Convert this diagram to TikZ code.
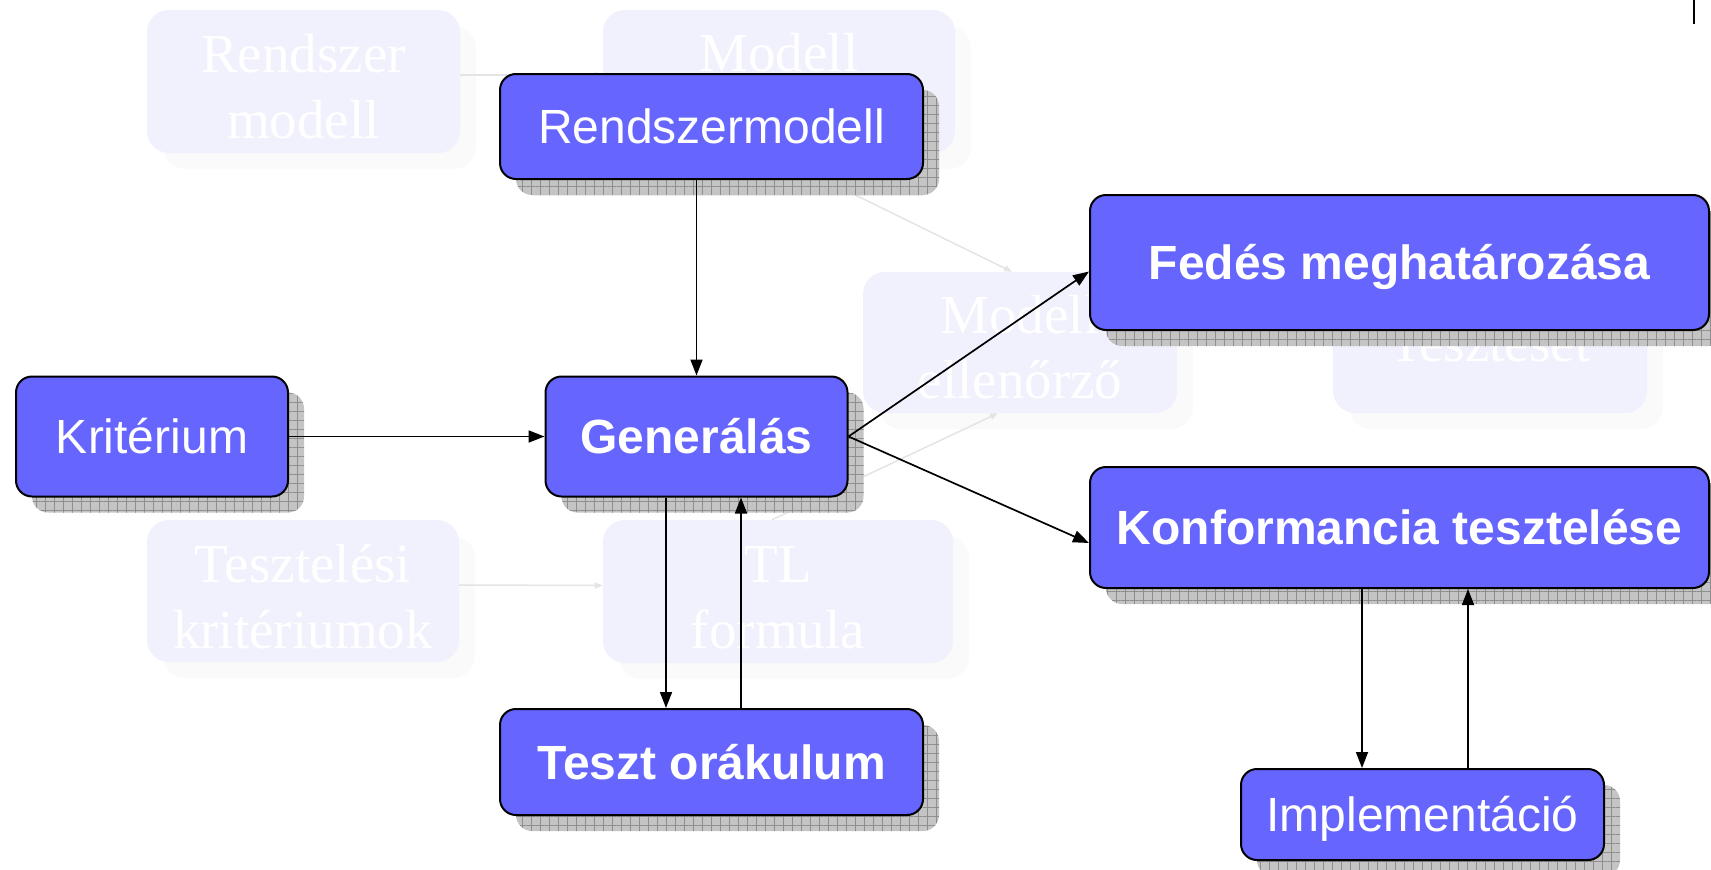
\documentclass[tikz,border=0pt]{standalone}
\usepackage{fontspec}
\newfontfamily\boxfont{Liberation Sans}
\newfontfamily\ghostfont{Liberation Serif}
\usetikzlibrary{arrows.meta,shadows,patterns.meta}

\definecolor{boxblue}{HTML}{6666FF}
\definecolor{ghostfill}{HTML}{F1F1FD}
\definecolor{ghostshade}{HTML}{FAFAFA}
\definecolor{ghostline}{HTML}{E4E4E4}
\definecolor{shadebase}{HTML}{C4C4C4}
\definecolor{shadegrid}{HTML}{8E8E8E}

\tikzset{
  mainbox/.style={rectangle, rounded corners=16pt, draw=black, line width=2pt,
    fill=boxblue, text=white, inner sep=0pt, text height=34.4pt, text depth=0pt,
    general shadow={fill=shadebase, shadow xshift=16pt, shadow yshift=-16pt},
    general shadow={pattern={Hatch[distance=9pt, angle=0, line width=0.6pt]},
      pattern color=shadegrid, shadow xshift=16pt, shadow yshift=-16pt}},
  plainlabel/.style={font=\boxfont\fontsize{48}{56}\selectfont},
  boldlabel/.style={font=\boxfont\bfseries\fontsize{48}{56}\selectfont},
  ghostbox/.style={rectangle, rounded corners=22pt, fill=ghostfill, draw=none,
    inner sep=0pt,
    general shadow={fill=ghostshade, shadow xshift=16pt, shadow yshift=-16pt}},
  ghosttext/.style={text=white, font=\ghostfont\fontsize{55}{66}\selectfont,
    inner sep=0pt, anchor=base},
  ghostlink/.style={draw=ghostline, line width=1.5pt, -{Triangle[length=8pt,width=6pt]}},
  link/.style={draw=black, line width=1.7pt, -{Triangle[length=16pt,width=12pt]}},
}

\begin{document}
\begin{tikzpicture}[x=1pt, y=-1pt]
\useasboundingbox (0,0) rectangle (1711,870);

% faded background flow
\node[ghostbox, minimum width=313pt, minimum height=143pt] (gRM) at (303.5,81.5) {};
\node[ghostbox, minimum width=352pt, minimum height=143pt] (gMod) at (779,81.5) {};
\node[ghostbox, minimum width=314pt, minimum height=141pt] (gME) at (1020,342.5) {};
\node[ghostbox, minimum width=314pt, minimum height=140pt] (gTS) at (1490,343) {};
\node[ghostbox, minimum width=312pt, minimum height=142pt] (gTK) at (303,591) {};
\node[ghostbox, minimum width=350pt, minimum height=143pt] (gTL) at (778,591.5) {};

\draw[ghostlink] ([yshift=6.5pt]gRM.east) -- ([yshift=6.5pt]gMod.west);
\draw[ghostlink] ([xshift=-9pt]gMod.south) -- ([xshift=-8pt]gME.north);
\draw[ghostlink] ([xshift=-6pt]gTL.north) -- ([xshift=-22pt]gME.south);
\draw[ghostlink] ([yshift=6pt]gTK.east) -- ([yshift=6pt]gTL.west);
\draw[ghostlink] ([yshift=3pt]gME.east) -- ([yshift=3pt]gTS.west);

\node[ghosttext] (gRMa) at (303.5,72) {Rendszer};
\node[ghosttext] (gRMb) at (303.5,138) {modell};
\node[ghosttext] (gModa) at (779,71) {Modell};
\node[ghosttext] (gMEa) at (1020,333) {Modell};
\node[ghosttext] (gMEb) at (1020,398) {ellenőrző};
\node[ghosttext] (gTSa) at (1490,361) {Teszteset};
\node[ghosttext] (gTKa) at (303,582) {Tesztelési};
\node[ghosttext] (gTKb) at (303,648) {kritériumok};
\node[ghosttext] (gTLa) at (778,582) {TL};
\node[ghosttext] (gTLb) at (778,648) {formula};

% main blocks
\node[mainbox, plainlabel, minimum width=423pt, minimum height=105pt] (rm) at (711.5,126.5) {Rendszermodell};
\node[mainbox, plainlabel, minimum width=272pt, minimum height=120pt] (kr) at (152,436.5) {Kritérium};
\node[mainbox, boldlabel, minimum width=302pt, minimum height=120pt] (gen) at (696.5,436.5) {Generálás};
\node[mainbox, boldlabel, minimum width=423pt, minimum height=106pt] (to) at (711.5,762) {Teszt orákulum};
\node[mainbox, boldlabel, minimum width=619pt, minimum height=135pt] (fed) at (1399.5,262.5) {Fedés meghatározása};
\node[mainbox, boldlabel, minimum width=619pt, minimum height=121pt] (konf) at (1399.5,527.5) {Konformancia tesztelése};
\node[mainbox, plainlabel, minimum width=363pt, minimum height=91pt] (impl) at (1422.5,814.5) {Implementáció};

% connectors
\draw[link] (gen.north |- rm.south) -- (gen.north);
\draw[link] (kr.east) -- (gen.west);

\coordinate (gdown) at ([xshift=-30.5pt]gen.south);
\coordinate (gup) at ([xshift=44.5pt]gen.south);
\draw[link] (gdown) -- (gdown |- to.north);
\draw[link] (gup |- to.north) -- (gup);

\draw[link] (gen.east) -- ([yshift=-9pt]fed.west);
\draw[link] (gen.east) -- ([yshift=-15.5pt]konf.west);

\coordinate (kdown) at ([xshift=-60.5pt]impl.north);
\coordinate (kup) at ([xshift=45.5pt]impl.north);
\draw[link] (kdown |- konf.south) -- (kdown);
\draw[link] (kup) -- (kup |- konf.south);

% edge mark at the top right
\draw[line width=2pt] (1694,0) -- (1694,24);
\end{tikzpicture}
\end{document}
